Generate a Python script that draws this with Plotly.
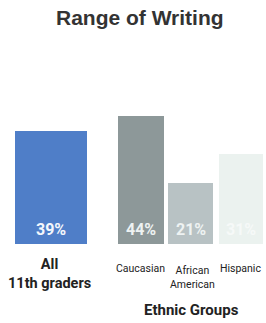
import plotly.graph_objects as go

categories = ["All 11th graders", "Caucasian", "African American", "Hispanic"]
values = [39, 44, 21, 31]
value_labels = ["39%", "44%", "21%", "31%"]
tick_labels = ["<b>All<br>11th graders</b>", "Caucasian", "African<br>American", "Hispanic"]
group_label = "Ethnic Groups"
title_text = "Range of Writing"

W, H = 266, 323
base_px = 244.0
px_per_unit = 128.0 / 44.0
y_top = base_px / px_per_unit
y_bot = -(H - base_px) / px_per_unit

centers = [51, 141, 190.5, 241]
widths = [72, 46, 45, 44]
colors = ["#4f7ec8", "#8d9899", "#b8c2c4", "#ebf2ef"]
label_colors = ["#f4f7fc", "#eef2f2", "#eef2f2", "#f6f9f8"]

fig = go.Figure()
fig.add_trace(go.Bar(
    x=centers, y=values, width=widths,
    marker=dict(color=colors, line=dict(width=0)),
    hoverinfo="skip", showlegend=False,
))

narrow = "Roboto, Liberation Sans, sans-serif"
ann = []
for c, v, lab, lc in zip(centers, values, value_labels, label_colors):
    ann.append(dict(x=c, y=0, xref="x", yref="y", text=f"<b>{lab}</b>",
                    showarrow=False, yanchor="bottom", yshift=3,
                    font=dict(family=narrow, size=16, color=lc)))

def py(px):
    return 1 - px / H

ann.append(dict(x=49, y=py(274), xref="x", yref="paper", text=tick_labels[0],
                showarrow=False, font=dict(family=narrow, size=14.5, color="#222"),
                yanchor="middle"))
ann.append(dict(x=140, y=py(268), xref="x", yref="paper", text=tick_labels[1],
                showarrow=False, font=dict(family=narrow, size=10.5, color="#222"),
                yanchor="middle"))
ann.append(dict(x=192, y=py(277), xref="x", yref="paper", text=tick_labels[2],
                showarrow=False, font=dict(family=narrow, size=10.5, color="#222"),
                yanchor="middle"))
ann.append(dict(x=240, y=py(268), xref="x", yref="paper", text=tick_labels[3],
                showarrow=False, font=dict(family=narrow, size=10.5, color="#222"),
                yanchor="middle"))
ann.append(dict(x=191, y=py(310), xref="x", yref="paper", text=f"<b>{group_label}</b>",
                showarrow=False, font=dict(family=narrow, size=15, color="#222"),
                yanchor="middle"))
ann.append(dict(x=140, y=py(18), xref="x", yref="paper", text=f"<b>{title_text}</b>",
                showarrow=False, font=dict(family="Liberation Sans, Arial, sans-serif", size=21, color="#333"),
                yanchor="middle"))

fig.update_layout(
    width=W, height=H,
    margin=dict(l=0, r=0, t=0, b=0),
    paper_bgcolor="white", plot_bgcolor="white",
    xaxis=dict(range=[0, W], visible=False, fixedrange=True),
    yaxis=dict(range=[y_bot, y_top], visible=False, fixedrange=True),
    annotations=ann,
    bargap=0,
)
fig.write_html("out.html", config={"displayModeBar": False},
               post_script="document.body.style.margin='0';document.body.style.overflow='hidden';")
